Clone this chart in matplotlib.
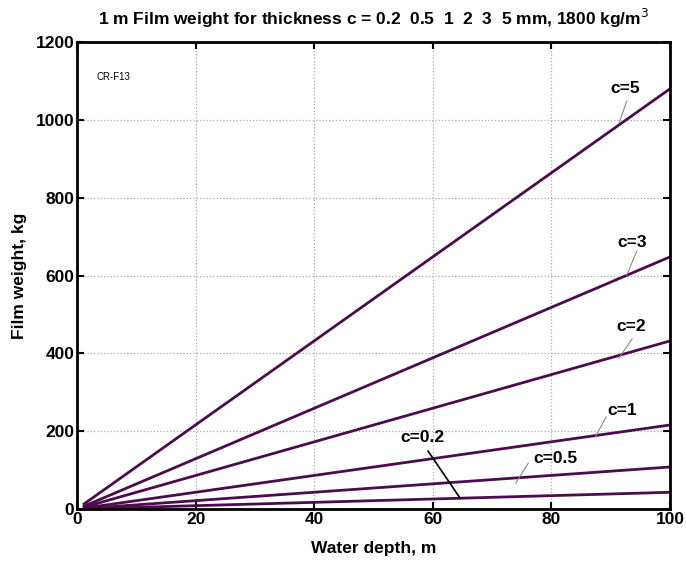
import matplotlib.pyplot as plt

plt.rcParams['font.family'] = ['Liberation Sans', 'DejaVu Sans']

depth = [1, 100]
thickness = ["5", "3", "2", "1", "0.5", "0.2"]
weights = {
    "5": [11, 1080],
    "3": [6, 648],
    "2": [4, 432],
    "1": [2, 216],
    "0.5": [1, 108],
    "0.2": [0.4, 43],
}
# label centre, leader start, leader tip (data coords)
label_pos = {
    "5": (92.4, 1082, 92.7, 1048, 91.4, 992),
    "3": (93.6, 686, 94.4, 663, 92.7, 601),
    "2": (93.4, 468, 93.6, 437, 91.4, 388),
    "1": (91.9, 252, 89.2, 236, 87.4, 185),
    "0.5": (80.6, 131, 76.1, 118, 74.0, 67),
    "0.2": (58.3, 185, 59.2, 149, 64.6, 28),
}

fig = plt.figure(figsize=(6.86, 5.69), dpi=100)
ax = fig.add_axes([0.1122, 0.1054, 0.8645, 0.8206])

for c in thickness:
    ax.plot(depth, weights[c], color='#4b0c4b', lw=2, solid_capstyle='butt')

for c in thickness:
    tx, ty, sx, sy, px, py = label_pos[c]
    lc = 'black' if c == "0.2" else '#888888'
    lw = 1.2 if c == "0.2" else 0.8
    ax.plot([sx, px], [sy, py], color=lc, lw=lw, zorder=3)
    ax.text(tx, ty, "c=" + c, ha='center', va='center',
            fontsize=12.5, fontweight='bold')

ax.text(6.1, 1110, "CR-F13", fontsize=7, ha='center', va='center')

ax.set_xlim(0, 100)
ax.set_ylim(0, 1200)
ax.set_xticks([0, 20, 40, 60, 80, 100])
ax.set_yticks([0, 200, 400, 600, 800, 1000, 1200])
ax.grid(True, ls=':', color='#aaaaaa', lw=0.9)
ax.tick_params(direction='in', top=True, right=True, length=5, width=1.5,
               labelsize=12.5, pad=2)
for lab in ax.get_xticklabels() + ax.get_yticklabels():
    lab.set_fontweight('bold')
for s in ax.spines.values():
    s.set_linewidth(2)

ax.set_xlabel("Water depth, m", fontsize=12.5, fontweight='bold', labelpad=10)
ax.set_ylabel("Film weight, kg", fontsize=12.5, fontweight='bold', labelpad=6)
ax.set_title("1 m Film weight for thickness c = 0.2  0.5  1  2  3  5 mm, 1800 kg/m$^3$",
             fontsize=12.5, fontweight='bold', pad=12)

fig.savefig("out.png", dpi=100)
